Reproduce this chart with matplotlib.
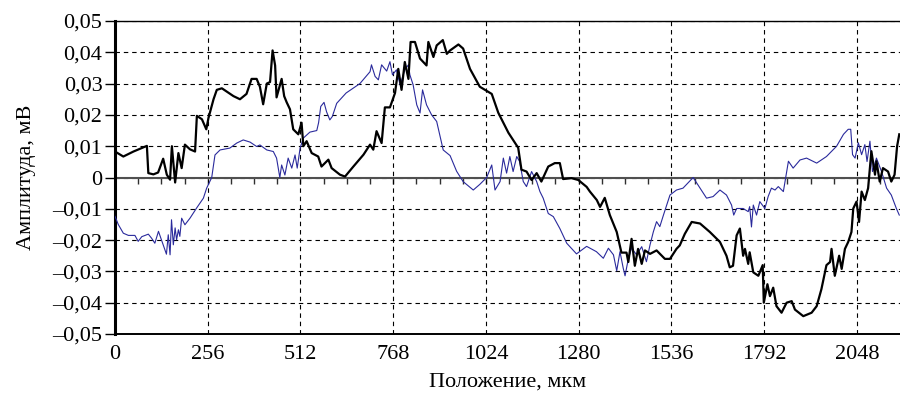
import matplotlib
matplotlib.use("Agg")
import matplotlib.pyplot as plt
from matplotlib.ticker import FuncFormatter, MultipleLocator, NullFormatter

# readings, position in um / amplitude in mV
black_x = [0, 23, 51, 88, 92, 106, 119, 133, 143, 152, 157, 166, 175, 184, 193, 207,
           221, 226, 240, 252, 258, 272, 281, 295, 327, 345, 363, 377, 391, 400, 409,
           419, 428, 435, 442, 446, 454, 460, 467, 474, 483, 492, 506, 515, 520, 529,
           543, 561, 570, 589, 598, 621, 635, 658, 686, 704, 713, 722, 736, 745, 759,
           773, 782, 791, 800, 810, 816, 828, 842, 860, 865, 879, 888, 905, 916, 925,
           948, 961, 980, 1007, 1040, 1058, 1086, 1113, 1122, 1136, 1150, 1164, 1177,
           1196, 1214, 1228, 1237, 1260, 1279, 1302, 1311, 1330, 1339, 1352, 1366,
           1385, 1398, 1412, 1417, 1426, 1435, 1444, 1454, 1463, 1477, 1495, 1518,
           1532, 1550, 1559, 1573, 1592, 1615, 1642, 1670, 1688, 1697, 1706, 1716,
           1725, 1734, 1739, 1748, 1752, 1762, 1776, 1788, 1791, 1801, 1808, 1817,
           1826, 1840, 1854, 1868, 1877, 1900, 1923, 1937, 1950, 1964, 1974, 1978,
           1987, 1999, 2006, 2015, 2024, 2033, 2038, 2047, 2054, 2061, 2070, 2079,
           2088, 2098, 2102, 2111, 2120, 2134, 2143, 2152, 2159, 2165]
black_y = [0.0083, 0.0067, 0.0083, 0.0101, 0.0014, 0.0010, 0.0016, 0.0060, 0.0009,
           -0.0007, 0.0100, -0.0016, 0.0078, 0.0030, 0.0105, 0.0090, 0.0083, 0.0197,
           0.0186, 0.0154, 0.0190, 0.0250, 0.0280, 0.0285, 0.0260, 0.0250, 0.0267,
           0.0315, 0.0315, 0.0290, 0.0234, 0.0300, 0.0305, 0.0406, 0.0358, 0.0256,
           0.0290, 0.0315, 0.0260, 0.0240, 0.0218, 0.0154, 0.0138, 0.0175, 0.0100,
           0.0116, 0.0078, 0.0067, 0.0035, 0.0057, 0.0030, 0.0009, 0.0003, 0.0035,
           0.0073, 0.0105, 0.0089, 0.0148, 0.0110, 0.0224, 0.0224, 0.0270, 0.0347,
           0.0280, 0.0369, 0.0315, 0.0433, 0.0433, 0.0380, 0.0358, 0.0433, 0.0385,
           0.0422, 0.0439, 0.0395, 0.0406, 0.0425, 0.0412, 0.0347, 0.0290, 0.0267,
           0.0207, 0.0143, 0.0095, 0.0025, 0.0019, -0.0008, 0.0014, -0.0013, 0.0035,
           0.0046, 0.0046, -0.0005, -0.0002, -0.0008, -0.0030, -0.0045, -0.0072,
           -0.0094, -0.0065, -0.0120, -0.0174, -0.0240, -0.0240, -0.0270, -0.0196,
           -0.0282, -0.0228, -0.0276, -0.0233, -0.0244, -0.0233, -0.0260, -0.0260,
           -0.0228, -0.0217, -0.0180, -0.0142, -0.0147, -0.0174, -0.0206, -0.0250,
           -0.0287, -0.0282, -0.0185, -0.0163, -0.0250, -0.0228, -0.0276, -0.0239,
           -0.0303, -0.0314, -0.0280, -0.0400, -0.0341, -0.0379, -0.0352, -0.0411,
           -0.0432, -0.0400, -0.0395, -0.0422, -0.0443, -0.0432, -0.0411, -0.0357,
           -0.0280, -0.0270, -0.0228, -0.0314, -0.0250, -0.0292, -0.0228, -0.0206,
           -0.0174, -0.0099, -0.0077, -0.0142, -0.0045, -0.0072, -0.0034, 0.0084,
           0.0009, 0.0052, -0.0013, 0.0030, 0.0019, -0.0013, 0.0009, 0.0100, 0.0138]

blue_x = [0, 9, 23, 37, 55, 64, 74, 92, 101, 110, 120, 133, 142, 147, 152, 156, 161,
          166, 170, 175, 179, 184, 193, 207, 225, 244, 253, 267, 276, 290, 317, 336,
          354, 373, 391, 400, 419, 437, 446, 455, 460, 469, 478, 488, 497, 503, 511,
          520, 538, 557, 562, 568, 577, 584, 593, 600, 612, 638, 676, 704, 708, 718,
          727, 736, 750, 759, 766, 777, 787, 800, 810, 814, 823, 833, 842, 849, 860,
          874, 888, 906, 925, 943, 961, 989, 1007, 1026, 1040, 1049, 1063, 1072,
          1081, 1090, 1099, 1109, 1117, 1127, 1136, 1150, 1164, 1173, 1182, 1196,
          1210, 1228, 1247, 1274, 1302, 1329, 1348, 1362, 1376, 1385, 1394, 1403,
          1408, 1417, 1426, 1440, 1454, 1467, 1477, 1486, 1495, 1504, 1514, 1532,
          1550, 1568, 1578, 1596, 1615, 1633, 1651, 1670, 1688, 1702, 1708, 1716,
          1734, 1748, 1752, 1757, 1762, 1771, 1780, 1794, 1803, 1812, 1822, 1831,
          1845, 1859, 1872, 1891, 1909, 1937, 1964, 1992, 2011, 2024, 2031, 2036,
          2043, 2052, 2061, 2070, 2076, 2084, 2091, 2102, 2116, 2130, 2143, 2157, 2165]
blue_y = [-0.0124, -0.0150, -0.0178, -0.0185, -0.0185, -0.0204, -0.0189, -0.0181,
          -0.0194, -0.0210, -0.0172, -0.0215, -0.0245, -0.0183, -0.0247, -0.0135,
          -0.0215, -0.0161, -0.0199, -0.0167, -0.0188, -0.0130, -0.0151, -0.0130,
          -0.0098, -0.0066, -0.0034, 0.0000, 0.0072, 0.0088, 0.0094, 0.0110, 0.0120,
          0.0113, 0.0099, 0.0104, 0.0088, 0.0083, 0.0062, 0.0000, 0.0040, 0.0008,
          0.0062, 0.0030, 0.0072, 0.0030, 0.0094, 0.0126, 0.0145, 0.0150, 0.0175,
          0.0227, 0.0240, 0.0210, 0.0184, 0.0195, 0.0237, 0.0270, 0.0300, 0.0338,
          0.0360, 0.0323, 0.0312, 0.0360, 0.0340, 0.0370, 0.0328, 0.0344, 0.0296,
          0.0344, 0.0360, 0.0328, 0.0296, 0.0232, 0.0206, 0.0280, 0.0232, 0.0200,
          0.0179, 0.0088, 0.0070, 0.0020, -0.0013, -0.0040, -0.0022, 0.0000, 0.0040,
          -0.0040, -0.0013, 0.0062, 0.0014, 0.0067, 0.0019, 0.0067, 0.0051, -0.0013,
          -0.0029, 0.0019, -0.0013, -0.0045, -0.0066, -0.0115, -0.0125, -0.0163,
          -0.0210, -0.0244, -0.0220, -0.0237, -0.0258, -0.0226, -0.0247, -0.0298,
          -0.0237, -0.0290, -0.0314, -0.0260, -0.0226, -0.0247, -0.0221, -0.0269,
          -0.0215, -0.0174, -0.0141, -0.0157, -0.0120, -0.0056, -0.0040, -0.0034,
          -0.0022, 0.0000, -0.0034, -0.0066, -0.0061, -0.0040, -0.0056, -0.0088,
          -0.0120, -0.0099, -0.0099, -0.0109, -0.0093, -0.0158, -0.0088, -0.0120,
          -0.0077, -0.0099, -0.0061, -0.0034, -0.0040, -0.0029, -0.0045, 0.0052,
          0.0030, 0.0056, 0.0062, 0.0046, 0.0067, 0.0100, 0.0138, 0.0154, 0.0154,
          0.0073, 0.0062, 0.0111, 0.0073, 0.0105, 0.0051, 0.0116, 0.0019, 0.0062,
          0.0019, -0.0034, -0.0056, -0.0099, -0.0120]

x_ticks = [0, 256, 512, 768, 1024, 1280, 1536, 1792, 2048]

plt.rcParams["font.family"] = ["Liberation Serif", "DejaVu Serif"]

fig = plt.figure(figsize=(9.0, 3.94), dpi=100)
ax = fig.add_axes([115 / 900, 1 - 334 / 394, 1 - 115 / 900, 313 / 394])

ax.plot(blue_x, blue_y, color="#2a2a9c", lw=0.8, zorder=3)
ax.plot(black_x, black_y, color="black", lw=1.6, zorder=4)

ax.set_xlim(0, 2167)
ax.set_ylim(-0.05, 0.05)
ax.set_xticks(x_ticks)
ax.yaxis.set_major_locator(MultipleLocator(0.01))
ax.yaxis.set_major_formatter(FuncFormatter(
    lambda v, _: "0" if abs(v) < 1e-9 else f"{v:.2f}".replace(".", ",").replace("-", "\u2013")))

ax.grid(True, color="black", lw=0.8, linestyle=(0, (4, 3.5)))
ax.set_axisbelow(True)

# zero line with small ticks every 64 um, hanging below it
ax.axhline(0, color="#505050", lw=1.5, zorder=2)
zero_ax = ax.secondary_xaxis(0.5)
zero_ax.spines["bottom"].set_visible(False)
zero_ax.spines["top"].set_visible(False)
zero_ax.xaxis.set_ticks_position("bottom")
zero_ax.xaxis.set_major_locator(MultipleLocator(64))
zero_ax.xaxis.set_major_formatter(NullFormatter())
zero_ax.tick_params(axis="x", length=4, width=1, color="#303030", direction="out",
                    labelbottom=False, labeltop=False)

ax.spines["right"].set_visible(False)
ax.spines["left"].set_linewidth(2.2)
ax.spines["bottom"].set_linewidth(1.4)
ax.spines["top"].set_linewidth(1.0)
ax.tick_params(axis="y", length=7, width=1, labelsize=16, pad=2)
ax.tick_params(axis="x", length=0, labelsize=16, pad=8)

ax.set_xlabel("Положение, мкм", fontsize=16, labelpad=6)
ax.set_ylabel("Амплитуда, мВ", fontsize=16, labelpad=12)

fig.savefig("out.png", dpi=100)
